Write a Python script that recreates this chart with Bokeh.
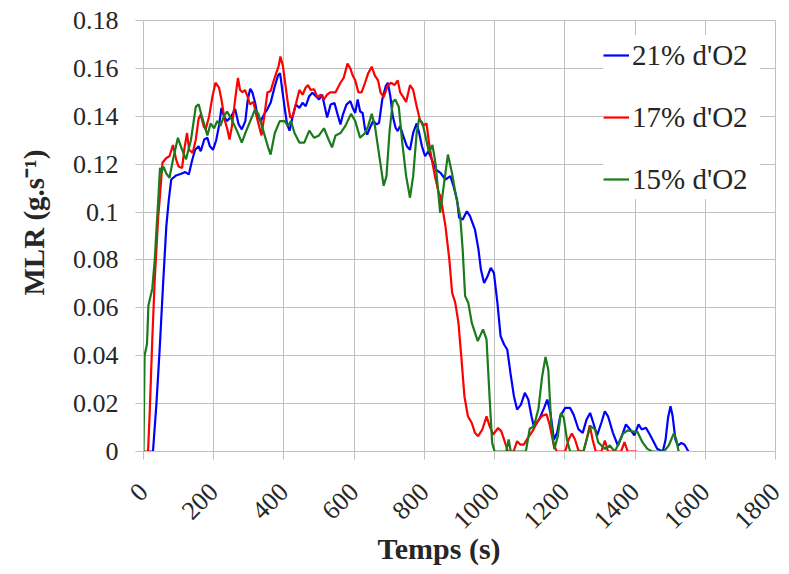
from math import pi
from bokeh.plotting import figure
from bokeh.models import Range1d, FixedTicker, Legend, LegendItem, Title
from bokeh.embed import file_html
from bokeh.resources import INLINE

series_names = ["21% d'O2", "17% d'O2", "15% d'O2"]
series_colors = ["#0000ff", "#ff0000", "#1b7a1b"]

t_21 = [13, 27, 37, 46, 56, 65, 72, 79, 93, 107, 119, 129, 138, 147, 157, 163, 173, 182, 189, 198,
        207, 215, 222, 229, 238, 250, 261, 271, 280, 290, 297, 304, 310, 318, 325, 334, 344, 353, 362, 374,
        383, 389, 395, 402, 409, 416, 425, 434, 444, 453, 462, 472, 481, 491, 500, 509, 516, 523, 533, 544,
        553, 561, 568, 578, 589, 596, 603, 610, 617, 624, 631, 637, 645, 654, 664, 671, 680, 690, 696, 703,
        710, 718, 724, 731, 740, 750, 759, 768, 778, 785, 793, 802, 811, 821, 832, 846, 860, 874, 883, 893,
        899, 909, 921, 930, 944, 954, 961, 970, 980, 989, 998, 1008, 1017, 1027, 1036, 1045, 1055, 1064, 1075, 1086,
        1096, 1105, 1112, 1127, 1141, 1150, 1159, 1169, 1178, 1187, 1201, 1215, 1225, 1239, 1251, 1262, 1272, 1281, 1292, 1304,
        1314, 1323, 1337, 1351, 1363, 1374, 1386, 1398, 1410, 1419, 1431, 1442, 1451, 1463, 1479, 1487, 1494, 1501, 1507, 1515,
        1522, 1532, 1541, 1552]
mlr_21 = [0, 0, 0.0203, 0.0426, 0.0705, 0.094, 0.105, 0.1136, 0.1153, 0.116, 0.1167, 0.1157, 0.1213, 0.126, 0.1275, 0.1254, 0.1303, 0.131, 0.1275, 0.126,
          0.130, 0.136, 0.1435, 0.140, 0.138, 0.140, 0.143, 0.1366, 0.1345, 0.138, 0.147, 0.1515, 0.150, 0.1456, 0.140, 0.138, 0.141, 0.143, 0.1456, 0.1526,
          0.157, 0.158, 0.1512, 0.1435, 0.1366, 0.134, 0.140, 0.1449, 0.1435, 0.1456, 0.1442, 0.1484, 0.1498, 0.1484, 0.147, 0.149, 0.1442, 0.1395, 0.1449, 0.1455,
          0.1407, 0.1366, 0.1407, 0.1449, 0.1463, 0.1435, 0.1414, 0.147, 0.142, 0.1414, 0.1345, 0.1324, 0.1352, 0.138, 0.1366, 0.1373, 0.147, 0.1526, 0.154, 0.1484,
          0.140, 0.1352, 0.1338, 0.1359, 0.1317, 0.1275, 0.126, 0.1331, 0.137, 0.1331, 0.1275, 0.1233, 0.1254, 0.122, 0.1178, 0.1164, 0.1136, 0.115, 0.1108, 0.1052,
          0.0976, 0.0969, 0.1003, 0.0983, 0.0927, 0.0844, 0.076, 0.0704, 0.0732, 0.0767, 0.0746, 0.0621, 0.0482, 0.0447, 0.0426, 0.0329, 0.0231, 0.0175, 0.0196, 0.0245,
          0.0217, 0.0147, 0.0102, 0.0134, 0.0182, 0.0217, 0.0161, 0.005, 0.0078, 0.0148, 0.0182, 0.0182, 0.0154, 0.0092, 0.0078, 0.0134, 0.0161, 0.012, 0.0067, 0.012,
          0.0168, 0.0147, 0.0078, 0.0025, 0.0067, 0.0113, 0.0092, 0.0067, 0.0113, 0.0092, 0.0099, 0.0071, 0.0046, 0.0011, 0, 0.005, 0.0141, 0.0189, 0.0148, 0.005,
          0.0025, 0.0036, 0.0028, 0]

t_17 = [0, 13, 18, 25, 32, 42, 46, 51, 54, 65, 74, 84, 93, 100, 110, 116, 124, 130, 140, 149,
        157, 163, 171, 177, 187, 196, 205, 215, 222, 231, 239, 245, 252, 261, 269, 275, 282, 289, 297, 303,
        313, 322, 329, 336, 344, 353, 362, 369, 378, 385, 390, 397, 404, 411, 418, 425, 434, 444, 453, 462,
        469, 476, 486, 495, 505, 514, 523, 532, 547, 561, 570, 581, 589, 596, 603, 612, 621, 631, 640, 650,
        659, 668, 675, 684, 696, 706, 715, 724, 731, 740, 748, 759, 768, 778, 787, 796, 806, 813, 821, 830,
        841, 846, 860, 871, 879, 888, 897, 905, 914, 924, 935, 944, 953, 965, 977, 986, 996, 1010, 1019, 1030,
        1038, 1054, 1064, 1073, 1083, 1094, 1108, 1122, 1136, 1148, 1157, 1168, 1177, 1201, 1211, 1220, 1229, 1239, 1253, 1262,
        1271, 1279, 1288, 1304, 1314, 1323, 1360, 1370, 1379, 1405]
mlr_17 = [0, 0, 0.0175, 0.0468, 0.0718, 0.0983, 0.105, 0.115, 0.1206, 0.1226, 0.1233, 0.128, 0.1219, 0.119, 0.1184, 0.126, 0.133, 0.126, 0.1247, 0.1303,
          0.139, 0.1407, 0.136, 0.1345, 0.140, 0.148, 0.154, 0.152, 0.147, 0.1386, 0.1345, 0.1303, 0.136, 0.147, 0.156, 0.151, 0.150, 0.151, 0.148, 0.145,
          0.146, 0.140, 0.136, 0.132, 0.140, 0.150, 0.1505, 0.154, 0.158, 0.161, 0.165, 0.161, 0.1533, 0.1456, 0.1395, 0.140, 0.1451, 0.151, 0.149, 0.152,
          0.153, 0.151, 0.1513, 0.148, 0.149, 0.147, 0.149, 0.150, 0.150, 0.154, 0.156, 0.162, 0.160, 0.157, 0.155, 0.150, 0.150, 0.154, 0.158, 0.1607,
          0.157, 0.155, 0.150, 0.148, 0.153, 0.154, 0.153, 0.155, 0.150, 0.148, 0.146, 0.153, 0.151, 0.1442, 0.1387, 0.136, 0.137, 0.129, 0.122, 0.115,
          0.108, 0.1066, 0.0941, 0.0802, 0.0663, 0.0621, 0.0537, 0.0398, 0.0231, 0.0147, 0.0119, 0.0078, 0.0064, 0.0092, 0.0147, 0.0105, 0.0071, 0.0098, 0.0085, 0.0036,
          0, 0, 0.0043, 0.0029, 0.0029, 0.0055, 0.0085, 0.0125, 0.015, 0.0155, 0.011, 0.003, 0, 0, 0.005, 0.0075, 0.005, 0.0004, 0, 0.005,
          0.011, 0.005, 0, 0, 0.0046, 0, 0, 0.0039, 0, 0]

t_15 = [0, 3, 10, 14, 25, 32, 37, 42, 47, 51, 57, 65, 74, 84, 98, 110, 121, 135, 149, 157,
        168, 182, 191, 201, 210, 219, 229, 238, 250, 266, 280, 290, 304, 318, 327, 341, 355, 362, 374, 388,
        402, 411, 420, 430, 444, 458, 472, 486, 500, 514, 528, 537, 547, 561, 575, 591, 603, 617, 631, 640,
        650, 659, 673, 684, 692, 701, 710, 717, 727, 737, 748, 759, 768, 778, 785, 795, 804, 813, 823, 832,
        845, 856, 867, 879, 890, 902, 909, 916, 925, 935, 952, 967, 977, 986, 993, 1000, 1033, 1040, 1046, 1089,
        1100, 1112, 1125, 1135, 1145, 1153, 1161, 1170, 1180, 1189, 1197, 1206, 1215, 1253, 1262, 1273, 1286, 1295, 1304, 1314,
        1328, 1342, 1351, 1365, 1379, 1393, 1407, 1421, 1435, 1449, 1482, 1496, 1510, 1517, 1524]
mlr_15 = [0, 0.040, 0.045, 0.061, 0.068, 0.080, 0.093, 0.105, 0.1185, 0.1164, 0.119, 0.1161, 0.1143, 0.1219, 0.131, 0.126, 0.122, 0.130, 0.144, 0.145,
          0.139, 0.132, 0.137, 0.135, 0.138, 0.136, 0.140, 0.142, 0.139, 0.134, 0.129, 0.133, 0.138, 0.143, 0.141, 0.134, 0.127, 0.124, 0.133, 0.138,
          0.138, 0.136, 0.138, 0.133, 0.129, 0.129, 0.134, 0.131, 0.132, 0.135, 0.130, 0.127, 0.132, 0.133, 0.136, 0.141, 0.138, 0.131, 0.133, 0.136,
          0.141, 0.136, 0.122, 0.111, 0.115, 0.134, 0.146, 0.147, 0.144, 0.129, 0.115, 0.106, 0.115, 0.133, 0.139, 0.137, 0.131, 0.125, 0.128, 0.120,
          0.0997, 0.112, 0.124, 0.116, 0.1066, 0.0983, 0.0844, 0.0649, 0.0621, 0.0537, 0.0461, 0.051, 0.0468, 0.0218, 0.0036, 0, 0, 0.005, 0, 0,
          0.0095, 0.0105, 0.018, 0.031, 0.0395, 0.034, 0.012, 0.001, 0.0063, 0.0161, 0.0141, 0.005, 0, 0, 0.005, 0.0106, 0.0092, 0.0039, 0.0025, 0.0011,
          0.0025, 0, 0.0025, 0.0074, 0.0088, 0.0084, 0.0081, 0.0039, 0.0011, 0, 0, 0.0025, 0.0074, 0.0053, 0]

x_ticks = [0, 200, 400, 600, 800, 1000, 1200, 1400, 1600, 1800]
y_ticks = [0, 0.02, 0.04, 0.06, 0.08, 0.1, 0.12, 0.14, 0.16, 0.18]
y_tick_labels = ["0", "0.02", "0.04", "0.06", "0.08", "0.1", "0.12", "0.14", "0.16", "0.18"]
x_title = "Temps (s)"
y_title = "MLR (g.s\u207b\u00b9)"

FONT = "Liberation Serif"
GRID = "#bfbfbf"
TXT = "#262626"

p = figure(width=788, height=572, x_range=Range1d(0, 1800), y_range=Range1d(0, 0.18),
           output_backend="svg", toolbar_location=None,
           min_border_left=143, min_border_right=13, min_border_top=20, min_border_bottom=121)
p.background_fill_color = "white"
p.border_fill_color = "white"
p.outline_line_color = GRID
p.outline_line_width = 1

p.xaxis.ticker = FixedTicker(ticks=x_ticks)
p.yaxis.ticker = FixedTicker(ticks=y_ticks)
p.xgrid.ticker = FixedTicker(ticks=x_ticks)
p.ygrid.ticker = FixedTicker(ticks=y_ticks)
p.yaxis.major_label_overrides = dict(zip(y_ticks, y_tick_labels))
p.xgrid.grid_line_color = GRID
p.ygrid.grid_line_color = GRID

for ax in (p.xaxis, p.yaxis):
    ax.axis_line_color = GRID
    ax.major_tick_line_color = GRID
    ax.major_tick_out = 8
    ax.major_tick_in = 0
    ax.minor_tick_line_color = None
    ax.major_label_text_font = FONT
    ax.major_label_text_font_size = "26px"
    ax.major_label_text_color = TXT
p.yaxis.major_label_standoff = 17
p.xaxis.major_label_orientation = pi / 4
p.xaxis.major_label_standoff = 28

renderers = []
for t, v, c in zip([t_21, t_17, t_15], [mlr_21, mlr_17, mlr_15], series_colors):
    r = p.line(t, v, line_color=c, line_width=2.2)
    renderers.append(r)

legend = Legend(items=[LegendItem(label=n, renderers=[r]) for n, r in zip(series_names, renderers)],
                location="top_right", margin=15, padding=12, spacing=22,
                glyph_width=26, glyph_height=40, label_height=40, label_width=128, label_standoff=3,
                label_text_font=FONT, label_text_font_size="29px", label_text_color=TXT,
                background_fill_color="white", background_fill_alpha=1.0,
                border_line_color=None)
p.add_layout(legend)

p.add_layout(Title(text=y_title, align="left", offset=156, vertical_align="top", standoff=35,
                   text_font=FONT, text_font_style="bold", text_font_size="29px",
                   text_color=TXT), "left")
p.add_layout(Title(text=x_title, align="left", offset=234, vertical_align="top", standoff=-16,
                   text_font=FONT, text_font_style="bold", text_font_size="30px",
                   text_color=TXT), "below")

open("out.html", "w").write(file_html(p, INLINE))
